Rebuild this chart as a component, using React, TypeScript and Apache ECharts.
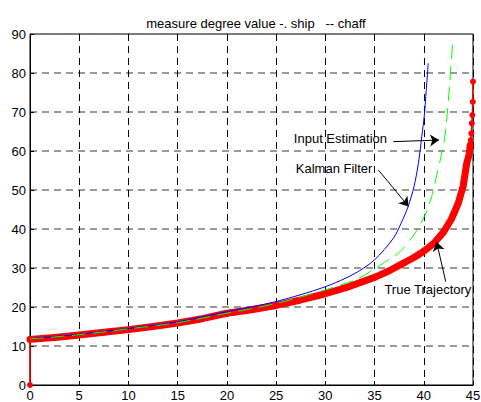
import React, { useEffect, useRef } from "react";
import * as echarts from "echarts";

// Axis ticks
const xTicks = [0, 5, 10, 15, 20, 25, 30, 35, 40, 45];
const yTicks = [0, 10, 20, 30, 40, 50, 60, 70, 80, 90];

// Kalman Filter estimate (blue)
const kalmanX = [0, 5, 10, 15, 20, 25, 30, 33, 35, 36.9, 37.7, 38.4, 39, 39.45, 39.8, 40.05, 40.25, 40.45];
const kalmanY = [11.9, 13.0, 14.5, 16.2, 18.8, 21.4, 25.2, 28.6, 32.1, 37.6, 41.5, 45.7, 50.8, 56.8, 63.7, 69, 75.5, 82.5];

// Input Estimation (green dashed)
const inputX = [0, 5, 10, 15, 20, 25, 30, 33.2, 34.5, 36, 37.6, 39.1, 40.2, 40.8, 41.2, 41.7, 42.15, 42.45, 42.7, 42.94];
const inputY = [11.8, 12.9, 14.4, 16.0, 18.4, 20.9, 24.4, 27.1, 29.0, 31.4, 34.2, 38.9, 44, 48.3, 52.6, 58, 63.8, 71.5, 79.5, 88.5];

// True trajectory (red dots)
const trueX = [0, 0, 2.5, 5, 7.5, 10, 12.5, 15, 17.5, 20, 22.5, 25, 27.5, 30, 32.5, 35, 36.5, 37.6, 39, 40, 41, 42, 42.8, 43.5, 44, 44.36, 44.58, 44.66, 44.72, 44.78, 44.83, 44.88, 44.93, 44.98, 45.0];
const trueY = [0, 11.7, 12.2, 12.8, 13.5, 14.2, 15.0, 15.9, 17.0, 18.4, 19.3, 20.4, 21.8, 23.4, 25.3, 27.6, 29.3, 30.8, 32.7, 34.3, 36.3, 39.2, 42.5, 46.6, 51, 56.8, 58.9, 60.2, 61.5, 62.8, 64.5, 67.1, 69.2, 72.6, 77.8];
// the samples that merge into a solid band (from the first non-zero sample up to y≈61)
const bandStart = 1;
const bandEnd = 28;

// Annotation labels and their arrows
const noteNames = ["Input Estimation", "Kalman Filter", "True Trajectory"];
const noteTextAt: [number, number][] = [[26.8, 63.2], [27.0, 55.6], [36.0, 24.6]];
const noteArrowFrom: [number, number][] = [[36.9, 62.4], [35.4, 55.1], [42.23, 26.5]];
const noteArrowTo: [number, number][] = [[41.55, 62.8], [38.45, 45.8], [41.3, 36.7]];

const FONT = "'Liberation Sans', Arial, sans-serif";

const pairs = (xs: number[], ys: number[]) => xs.map((x, i) => [x, ys[i]]);

export default function App() {
  const ref = useRef<HTMLDivElement>(null);

  useEffect(() => {
    if (!ref.current) return;
    const chart = echarts.init(ref.current, undefined, { renderer: "svg" });
    const truePts = pairs(trueX, trueY);

    chart.setOption({
      animation: false,
      backgroundColor: "#ffffff",
      title: {
        text: "measure degree value -. ship   -- chaff",
        left: 251,
        top: 12,
        textAlign: "center",
        textStyle: { fontFamily: FONT, fontSize: 13, fontWeight: "normal", color: "#000" },
      },
      grid: {
        left: 30,
        right: 8,
        top: 34,
        bottom: 17,
        containLabel: false,
        outerBoundsMode: "none",
        show: true,
        borderColor: "#000",
        borderWidth: 1,
        backgroundColor: "transparent",
      },
      xAxis: {
        type: "value",
        min: xTicks[0],
        max: xTicks[xTicks.length - 1],
        interval: 5,
        axisLine: { show: true, lineStyle: { color: "#000", width: 1 } },
        axisTick: { show: true, inside: true, length: 4, lineStyle: { color: "#000" } },
        axisLabel: { fontFamily: FONT, fontSize: 13, lineHeight: 12, color: "#000", margin: 4 },
        splitLine: { show: true, lineStyle: { color: "#000", width: 1, type: [7, 5] } },
      },
      yAxis: {
        type: "value",
        min: yTicks[0],
        max: yTicks[yTicks.length - 1],
        interval: 10,
        axisLine: { show: true, lineStyle: { color: "#000", width: 1 } },
        axisTick: { show: true, inside: true, length: 4, lineStyle: { color: "#000" } },
        axisLabel: { fontFamily: FONT, fontSize: 13, color: "#000", margin: 4 },
        splitLine: { show: true, lineStyle: { color: "#7a7a7a", width: 1.5, type: [7, 5] } },
      },
      series: [
        {
          name: "True Trajectory band",
          type: "line",
          data: truePts.slice(bandStart, bandEnd + 1),
          showSymbol: false,
          silent: true,
          lineStyle: { color: "#ff0000", width: 7, cap: "round", join: "round" },
          z: 1,
        },
        {
          name: "True Trajectory",
          type: "line",
          data: truePts,
          symbol: "circle",
          symbolSize: 6,
          showAllSymbol: true,
          itemStyle: { color: "#ff0000" },
          lineStyle: { color: "#ff0000", width: 1.5 },
          silent: true,
          z: 2,
        },
        {
          name: "Kalman Filter",
          type: "line",
          data: pairs(kalmanX, kalmanY),
          showSymbol: false,
          smooth: 0.3,
          lineStyle: { color: "#0000ff", width: 1 },
          silent: true,
          z: 3,
        },
        {
          name: "Input Estimation",
          type: "line",
          data: pairs(inputX, inputY),
          showSymbol: false,
          smooth: 0.3,
          lineStyle: { color: "#00ff00", width: 1, type: [14, 7] },
          silent: true,
          z: 4,
        },
        {
          name: "notes",
          type: "line",
          data: [],
          silent: true,
          z: 5,
          markLine: {
            silent: true,
            animation: false,
            symbol: ["none", "arrow"],
            symbolSize: 9,
            label: { show: false },
            lineStyle: { color: "#000", width: 1, type: "solid" },
            emphasis: { disabled: true },
            data: noteArrowFrom.map((from, i) => [
              { coord: from },
              { coord: noteArrowTo[i] },
            ]),
          },
          markPoint: {
            silent: true,
            animation: false,
            symbol: "circle",
            symbolSize: 0,
            itemStyle: { color: "transparent" },
            label: {
              show: true,
              position: "right",
              distance: 0,
              formatter: "{b}",
              fontFamily: FONT,
              fontSize: 13,
              color: "#000",
            },
            data: noteNames.map((name, i) => ({ name, coord: noteTextAt[i] })),
          },
        },
      ],
    });

    return () => chart.dispose();
  }, []);

  return (
    <div
      ref={ref}
      style={{ position: "fixed", left: 0, top: 0, width: 481, height: 402, background: "#fff" }}
    />
  );
}
